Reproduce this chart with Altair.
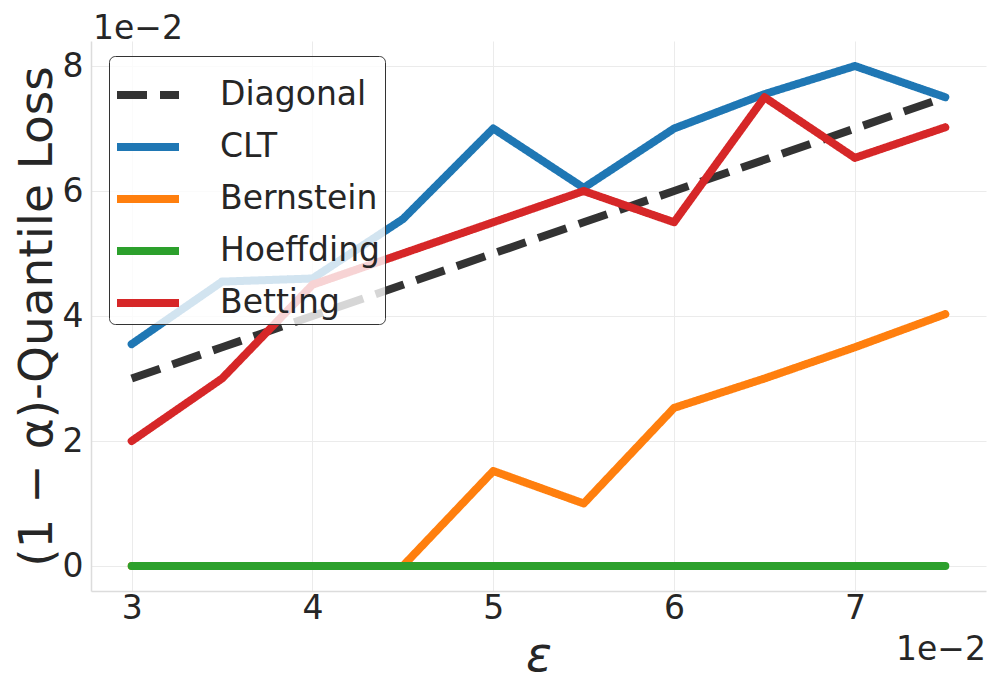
import altair as alt
import pandas as pd

eps = [3.0, 3.5, 4.0, 4.5, 5.0, 5.5, 6.0, 6.5, 7.0, 7.5]
diagonal = [3.0, 3.5, 4.0, 4.5, 5.0, 5.5, 6.0, 6.5, 7.0, 7.5]
clt = [3.55, 4.55, 4.6, 5.55, 7.0, 6.05, 7.0, 7.55, 8.0, 7.5]
bernstein = [0.0, 0.0, 0.0, 0.0, 1.52, 1.0, 2.53, 3.0, 3.5, 4.03]
hoeffding = [0.0, 0.0, 0.0, 0.0, 0.0, 0.0, 0.0, 0.0, 0.0, 0.0]
betting = [2.0, 3.0, 4.5, 5.0, 5.5, 6.0, 5.5, 7.5, 6.53, 7.02]

series_names = ["Diagonal", "CLT", "Bernstein", "Hoeffding", "Betting"]
series_vals = [diagonal, clt, bernstein, hoeffding, betting]
colors = ["#333333", "#1f77b4", "#ff7f0e", "#2ca02c", "#d62728"]
dashes = [[30, 13], [1, 0], [1, 0], [1, 0], [1, 0]]

x_ticks = [3, 4, 5, 6, 7]
y_ticks = [0, 2, 4, 6, 8]
offset_label = "1e\u22122"

rows = []
for name, vals in zip(series_names, series_vals):
    for e, v in zip(eps, vals):
        rows.append({"eps": e, "loss": v, "series": name})
df = pd.DataFrame(rows)

legend = alt.Legend(
    title=None,
    orient="none",
    legendX=18,
    legendY=15,
    symbolType="stroke",
    symbolSize=3844,
    symbolStrokeWidth=8,
    labelFontSize=33,
    labelColor="#262626",
    labelFont="DejaVu Sans",
    labelOffset=37,
    labelLimit=400,
    labelExpr="datum.label + '\u00a0\u00a0'",
    rowPadding=-29,
    padding=4,
    fillColor="rgba(255,255,255,0.8)",
    strokeColor="#333333",
    cornerRadius=6,
)

x_enc = alt.X(
    "eps:Q",
    scale=alt.Scale(domain=[2.775, 7.725], nice=False, zero=False),
    axis=alt.Axis(values=x_ticks, title="\u03b5", format="d"),
)
y_enc = alt.Y(
    "loss:Q",
    scale=alt.Scale(domain=[-0.4, 8.4], nice=False, zero=False),
    axis=alt.Axis(values=y_ticks, title="(1 \u2212 \u03b1)-Quantile Loss", format="d"),
)
color_enc = alt.Color(
    "series:N",
    scale=alt.Scale(domain=series_names, range=colors),
    legend=legend,
)
dash_enc = alt.StrokeDash(
    "series:N",
    scale=alt.Scale(domain=series_names, range=dashes),
    legend=legend,
)

layers = []
for name in series_names:
    cap = "butt" if name == "Diagonal" else "round"
    layers.append(
        alt.Chart(df)
        .transform_filter(alt.datum.series == name)
        .mark_line(strokeWidth=8, strokeCap=cap, strokeJoin="round")
        .encode(x=x_enc, y=y_enc, color=color_enc, strokeDash=dash_enc)
    )

offset_data = pd.DataFrame({"t": [offset_label]})
top_offset = (
    alt.Chart(offset_data)
    .mark_text(align="left", baseline="alphabetic", fontSize=33, font="DejaVu Sans", color="#262626")
    .encode(x=alt.value(2), y=alt.value(-2), text="t:N")
)
bottom_offset = (
    alt.Chart(offset_data)
    .mark_text(align="right", baseline="alphabetic", fontSize=33, font="DejaVu Sans", color="#262626")
    .encode(x=alt.value(895), y=alt.value(619), text="t:N")
)

chart = (
    alt.layer(*layers, top_offset, bottom_offset)
    .properties(
        width=895,
        height=550,
        autosize=alt.AutoSizeParams(type="none"),
        padding={"left": 83, "top": 33, "right": 3, "bottom": 95},
    )
    .configure_view(stroke=None)
    .configure_axis(
        labelFont="DejaVu Sans",
        labelFontSize=33,
        labelColor="#262626",
        titleFont="DejaVu Sans",
        titleColor="#262626",
        titleFontWeight="normal",
        titleFontSize=47,
        grid=True,
        gridColor="#ebebeb",
        gridWidth=1,
        domainColor="#dcdcdc",
        domainWidth=1.5,
        ticks=False,
    )
    .configure_axisX(labelPadding=1, titlePadding=7, titleFontStyle="italic", titleFontSize=48)
    .configure_axisY(labelPadding=8, titlePadding=1)
)

chart.save("out.html", embed_options={"renderer": "svg", "actions": False})
